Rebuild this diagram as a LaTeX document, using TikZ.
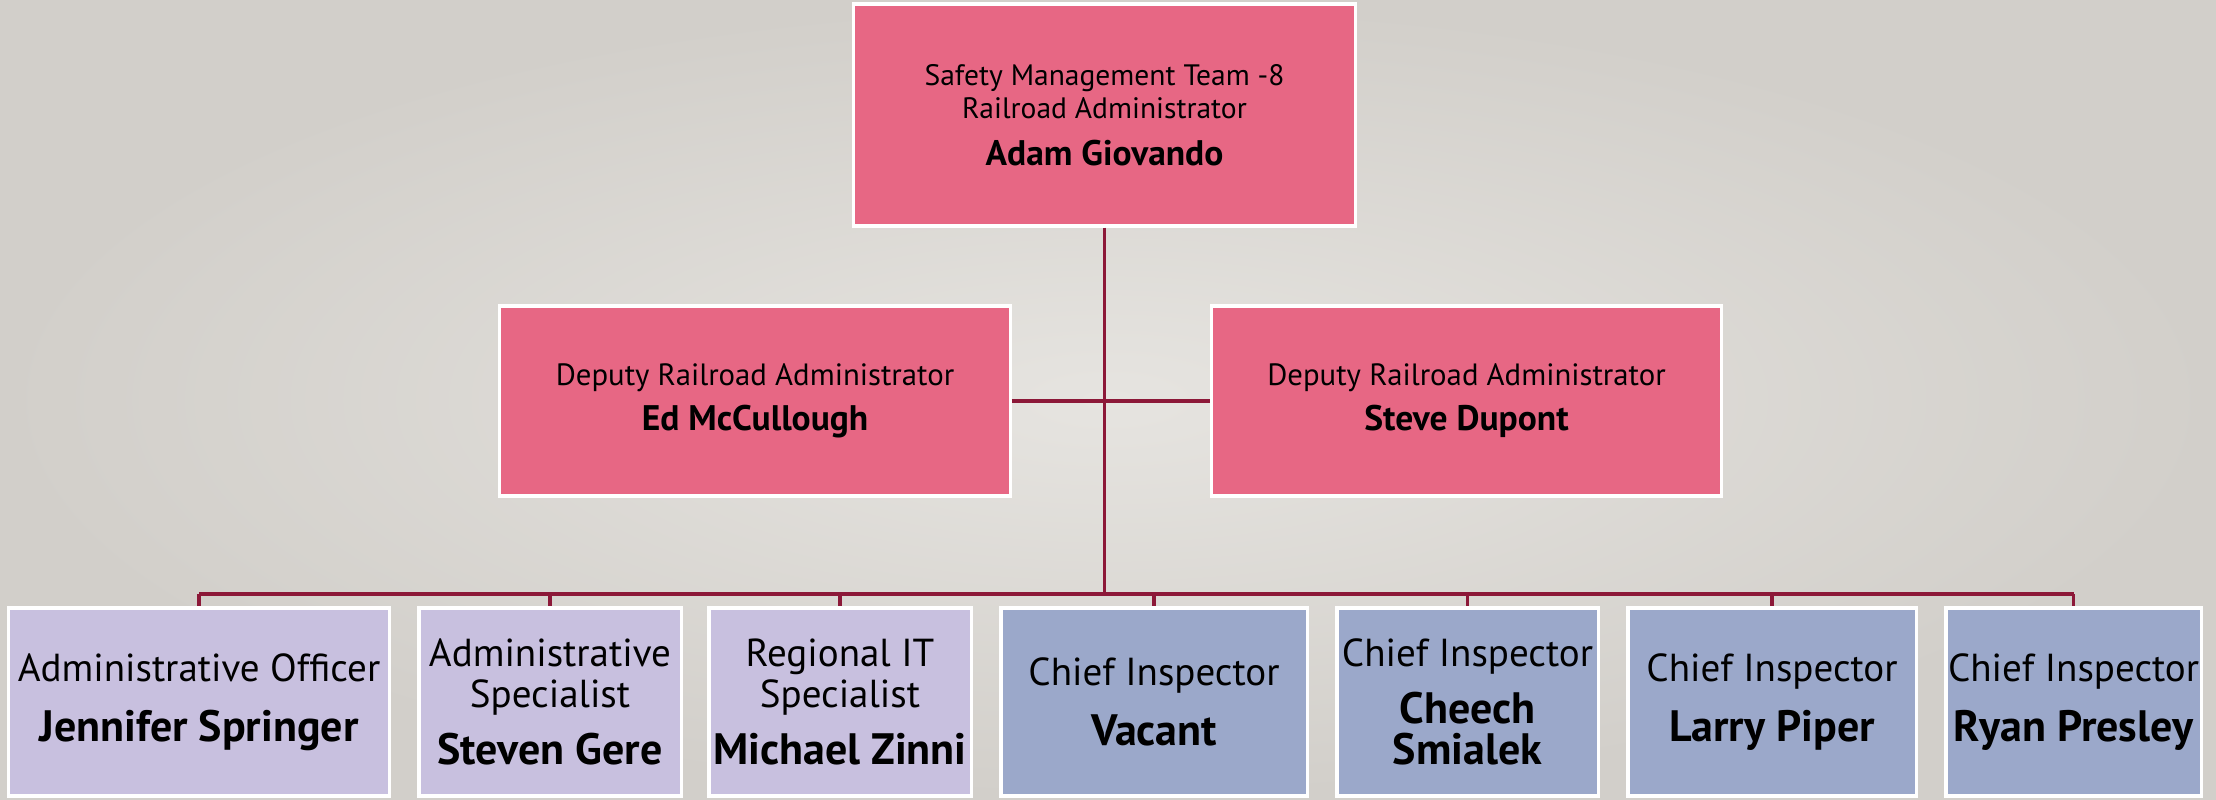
\documentclass[tikz,border=0pt]{standalone}
\usepackage{fontspec}
\setmainfont{PT Sans}
\usetikzlibrary{positioning}
\definecolor{bgin}{RGB}{230,228,224}
\definecolor{bgout}{RGB}{210,207,202}
\definecolor{rosebox}{RGB}{231,103,132}
\definecolor{lilacbox}{RGB}{200,192,223}
\definecolor{steelbox}{RGB}{155,168,202}
\definecolor{linkred}{RGB}{140,24,56}
\newcommand\topname[1]{{\fontsize{10.1}{9.4}\selectfont\bfseries #1}}
\newcommand\rowname[1]{{\fontsize{12.5}{11.6}\selectfont\bfseries #1}}
\tikzset{
  x=0.01cm, y=-0.01cm,
  unit/.style={draw=white, line width=0.9pt, inner sep=0pt, align=center},
  head/.style={unit, fill=rosebox, minimum height=2.22cm,
    font=\fontsize{8.4}{9.4}\selectfont},
  deputy/.style={unit, fill=rosebox, minimum height=1.90cm,
    font=\fontsize{8.75}{9.4}\selectfont},
  staff/.style={unit, fill=lilacbox, minimum height=1.88cm,
    font=\fontsize{11.1}{11.6}\selectfont},
  chief/.style={unit, fill=steelbox, minimum height=1.88cm,
    font=\fontsize{11.1}{11.6}\selectfont},
  link/.style={draw=linkred, line width=1pt}
}
\begin{document}
\begin{tikzpicture}
\useasboundingbox (0,0) rectangle (2216,799);
\shade[inner color=bgin, outer color=bgout] (0,0) rectangle (2216,799);

% management
\node[head, minimum width=5.01cm] (admin) at (1104.5,115)
  {Safety Management Team -8\\Railroad Administrator\\[4pt]\topname{Adam Giovando}};
\node[deputy, minimum width=5.10cm] (depL) at (755,401)
  {Deputy Railroad Administrator\\[3.4pt]\topname{Ed McCullough}};
\node[deputy, minimum width=5.09cm] (depR) at (1466.5,401)
  {Deputy Railroad Administrator\\[3.4pt]\topname{Steve Dupont}};

% staff row
\node[staff, minimum width=3.80cm] (officer) at (199,702)
  {Administrative Officer\\[5.4pt]\rowname{Jennifer Springer}};
\node[staff, minimum width=2.62cm] (adspec) at (550,702)
  {Administrative\\Specialist\\[4.6pt]\rowname{Steven Gere}};
\node[staff, minimum width=2.62cm] (itspec) at (840,702)
  {Regional IT\\Specialist\\[4.6pt]\rowname{Michael Zinni}};
\node[chief, minimum width=3.06cm] (chiefA) at (1154,702)
  {Chief Inspector\\[5.4pt]\rowname{Vacant}};
\node[chief, minimum width=2.61cm] (chiefB) at (1467.5,702)
  {Chief Inspector\\[4.6pt]\rowname{Cheech}\\\rowname{Smialek}};
\node[chief, minimum width=2.88cm] (chiefC) at (1772,702)
  {Chief Inspector\\[5.4pt]\rowname{Larry Piper}};
\node[chief, minimum width=2.55cm] (chiefD) at (2073.5,702)
  {Chief Inspector\\[5.4pt]\rowname{Ryan Presley}};

\coordinate (bus) at (1104.5,594);
\draw[link] (admin.south) -- (bus);
\draw[link] (depL.east) -- (depR.west);
\draw[link] (officer.north |- bus) -- (chiefD.north |- bus);
\foreach \n in {officer,adspec,itspec,chiefA,chiefB,chiefC,chiefD}
  \draw[link] (\n.north |- bus) -- (\n.north);
\end{tikzpicture}
\end{document}
